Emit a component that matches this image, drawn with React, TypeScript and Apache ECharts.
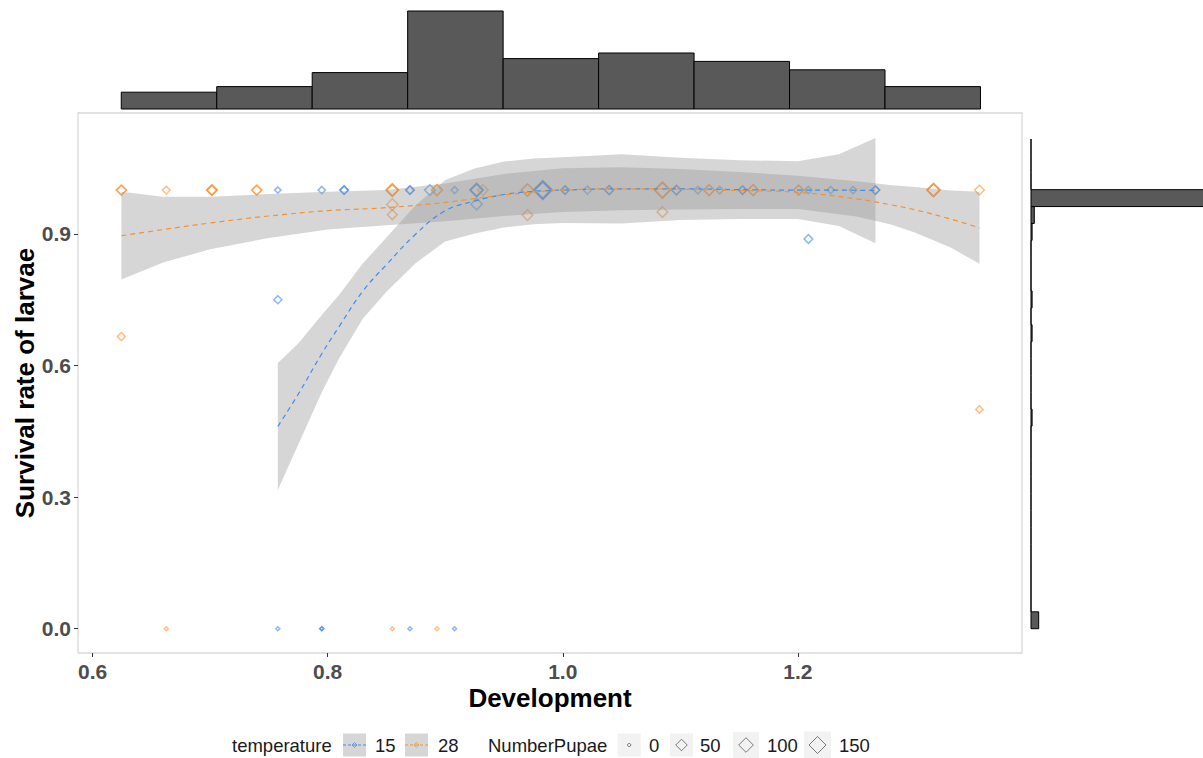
import React, { useEffect, useRef } from 'react';
import * as echarts from 'echarts';

// ---------- data ----------
const devX15 = [0.7576, 0.7576, 0.7576, 0.795, 0.795, 0.795, 0.814, 0.814, 0.870, 0.870, 0.870, 0.887, 0.908, 0.908, 0.9267, 0.9267, 0.9267, 0.9267, 0.983, 0.983, 0.983, 0.983, 1.002, 1.002, 1.021, 1.0395, 1.0395, 1.0967, 1.0967, 1.115, 1.1335, 1.153, 1.153, 1.209, 1.209, 1.228, 1.247, 1.266, 1.266];
const surv15 = [1.0, 0.75, 0, 1.0, 0, 0, 1.0, 1.0, 1.0, 1.0, 0, 1.0, 1.0, 0, 1.0, 1.0, 1.0, 0.968, 1.0, 1.0, 1.0, 1.0, 1.0, 1.0, 1.0, 1.0, 1.0, 1.0, 1.0, 1.0, 1.0, 1.0, 1.0, 1.0, 0.8885, 1.0, 1.0, 1.0, 1.0];
const pupae15 = [5, 15, 0, 10, 0, 0, 15, 20, 15, 20, 0, 40, 8, 0, 60, 70, 80, 50, 120, 150, 180, 200, 15, 20, 15, 20, 25, 25, 30, 12, 12, 15, 20, 10, 20, 10, 10, 15, 20];

const devX28 = [0.6245, 0.6245, 0.6245, 0.6627, 0.6627, 0.7015, 0.7015, 0.7015, 0.7397, 0.7397, 0.855, 0.855, 0.855, 0.855, 0.855, 0.855, 0.893, 0.893, 0.893, 0.932, 0.970, 0.970, 0.970, 1.0848, 1.0848, 1.0848, 1.0848, 1.1245, 1.1245, 1.162, 1.162, 1.2007, 1.2007, 1.3154, 1.3154, 1.3154, 1.3545, 1.3545];
const surv28 = [1.0, 1.0, 0.666, 1.0, 0, 1.0, 1.0, 1.0, 1.0, 1.0, 1.0, 1.0, 1.0, 0.967, 0.944, 0, 1.0, 1.0, 0, 1.0, 1.0, 1.0, 0.943, 1.0, 1.0, 1.0, 0.95, 1.0, 1.0, 1.0, 1.0, 1.0, 1.0, 1.0, 1.0, 1.0, 1.0, 0.5];
const pupae28 = [30, 35, 15, 12, 0, 30, 35, 40, 30, 35, 50, 60, 70, 50, 30, 0, 40, 45, 0, 40, 60, 65, 40, 100, 120, 140, 40, 40, 45, 40, 45, 30, 35, 60, 70, 80, 30, 10];

// loess fits (temperature 15) and half-width of their confidence band
const fitX15 = [0.7576, 0.775, 0.795, 0.81, 0.83, 0.85, 0.875, 0.90, 0.925, 0.95, 0.975, 1.0, 1.05, 1.10, 1.15, 1.20, 1.235, 1.266];
const fitY15 = [0.461, 0.535, 0.627, 0.69, 0.77, 0.83, 0.90, 0.953, 0.975, 0.99, 0.997, 1.0, 1.003, 1.003, 1.001, 1.0, 1.0, 0.999];
const band15 = [0.145, 0.115, 0.088, 0.072, 0.063, 0.062, 0.066, 0.07, 0.074, 0.075, 0.075, 0.075, 0.079, 0.071, 0.067, 0.066, 0.082, 0.12];

// loess fits (temperature 28)
const fitX28 = [0.6245, 0.66, 0.70, 0.75, 0.80, 0.85, 0.90, 0.95, 1.0, 1.05, 1.10, 1.15, 1.20, 1.25, 1.28, 1.30, 1.33, 1.3545];
const fitY28 = [0.896, 0.91, 0.925, 0.941, 0.953, 0.96, 0.972, 0.989, 1.0, 1.003, 1.002, 0.999, 0.995, 0.98, 0.966, 0.955, 0.934, 0.914];
const band28 = [0.10, 0.075, 0.06, 0.05, 0.043, 0.04, 0.043, 0.048, 0.05, 0.049, 0.046, 0.042, 0.038, 0.04, 0.045, 0.052, 0.065, 0.082];

// marginal histograms
const topHistCounts = [6, 8, 13, 35, 18, 20, 17, 14, 8];
const topHistStart = 0.6244;
const topHistBinWidth = 0.08122;
const rightHistCounts = [7, 0, 0, 0, 0, 0, 0, 0, 0, 0, 0, 0, 1, 0, 0, 0, 0, 1, 0, 1, 0, 0, 0, 1, 3, 165, 0, 0, 0];
const rightHistBinWidth = 0.0385;

const xTicks = [0.6, 0.8, 1.0, 1.2];
const yTicks = [0, 0.3, 0.6, 0.9];
const sizeBreaks = [0, 50, 100, 150];
const tempLevels = ['15', '28'];

// ---------- styling ----------
const BLUE = '#2A7FE8';
const ORANGE = '#FF8A1F';
const BLUE_LINE = '#3F8DEB';
const ORANGE_LINE = '#F7912F';
const FONT = '"Liberation Sans", Arial, sans-serif';
const X_MIN = 0.5876, X_MAX = 1.3907, Y_MIN = -0.0554, Y_MAX = 1.1758;

const sz = (n: number) => 4 + 13 * Math.sqrt(n / 150);

function ribbonSeries(xs: number[], ys: number[], hw: number[]) {
  const data = xs.map((x, i) => [x, ys[i] - hw[i], ys[i] + hw[i]]);
  return {
    type: 'custom', xAxisIndex: 0, yAxisIndex: 0, silent: true, z: 2,
    data,
    renderItem: (params: any, api: any) => {
      if (params.dataIndex !== 0) return { type: 'group', children: [] };
      const upper = data.map((d) => api.coord([d[0], d[2]]));
      const lower = data.map((d) => api.coord([d[0], d[1]])).reverse();
      return {
        type: 'polygon',
        shape: { points: upper.concat(lower) },
        style: { fill: 'rgba(153,153,153,0.4)', stroke: 'none' },
      };
    },
  };
}

function scatterSeries(xs: number[], ys: number[], ns: number[], color: string) {
  return {
    type: 'scatter', xAxisIndex: 0, yAxisIndex: 0, z: 1, silent: true,
    symbol: 'diamond',
    symbolSize: (v: number[]) => sz(v[2]),
    data: xs.map((x, i) => [x, ys[i], ns[i]]),
    itemStyle: { color: 'rgba(0,0,0,0)', borderColor: color, borderWidth: 1.5, opacity: 0.55 },
  };
}

function lineSeries(xs: number[], ys: number[], color: string) {
  return {
    type: 'line', xAxisIndex: 0, yAxisIndex: 0, z: 3, silent: true,
    smooth: 0.4, symbol: 'none',
    data: xs.map((x, i) => [x, ys[i]]),
    lineStyle: { color, width: 1.2, type: [5, 4] },
  };
}

function legendGraphics() {
  const els: any[] = [];
  const cy = 745;
  const txt = (s: string, x: number) => ({
    type: 'text', x, y: cy,
    style: { text: s, font: `18.5px ${FONT}`, fill: '#1a1a1a', verticalAlign: 'middle', textAlign: 'left' },
  });
  const diamond = (cx: number, s: number, stroke: string, opacity = 1) => ({
    type: 'polygon',
    shape: { points: [[cx, cy - s / 2], [cx + s / 2, cy], [cx, cy + s / 2], [cx - s / 2, cy]] },
    style: { fill: 'none', stroke, lineWidth: 1, opacity },
  });
  els.push(txt('temperature', 232));
  const tempKeys = [343, 405];
  const tempLabels = [375, 438];
  const tempColors = [BLUE_LINE, ORANGE_LINE];
  tempLevels.forEach((lab, i) => {
    const x = tempKeys[i];
    els.push({ type: 'rect', shape: { x, y: cy - 11.5, width: 23, height: 23 }, style: { fill: '#d6d6d6' } });
    els.push({ type: 'line', shape: { x1: x, y1: cy, x2: x + 23, y2: cy }, style: { stroke: tempColors[i], lineWidth: 1, lineDash: [3, 2] } });
    els.push(diamond(x + 11.5, 5, tempColors[i], 0.8));
    els.push(txt(lab, tempLabels[i]));
  });
  els.push(txt('NumberPupae', 488));
  const sizeKeys = [617.7, 670, 733, 804];
  const sizeKeyW = [23, 23, 26, 27];
  const sizeLabels = [649, 700, 767, 839];
  sizeBreaks.forEach((n, i) => {
    const x = sizeKeys[i];
    const w = sizeKeyW[i];
    els.push({ type: 'rect', shape: { x, y: cy - w / 2, width: w, height: w }, style: { fill: '#f2f2f2' } });
    els.push(diamond(x + w / 2, sz(n), '#444', 0.7));
    els.push(txt(String(n), sizeLabels[i]));
  });
  return els;
}

export default function App() {
  const ref = useRef<HTMLDivElement>(null);
  useEffect(() => {
    const chart = echarts.init(ref.current!, null, { renderer: 'svg' });
    const topData = topHistCounts.map((c, i) => [topHistStart + i * topHistBinWidth, topHistStart + (i + 1) * topHistBinWidth, c]);
    const rightData = rightHistCounts.map((c, i) => [i * rightHistBinWidth, (i + 1) * rightHistBinWidth, c]);
    const option: any = {
      animation: false,
      backgroundColor: '#ffffff',
      grid: [
        { left: 78, top: 113, width: 944, height: 540, show: true, borderColor: '#d9d9d9', borderWidth: 1.3, backgroundColor: 'transparent' },
        { left: 78, top: 6, width: 944, height: 103 },
        { left: 1031, top: 113, width: 172, height: 540 },
      ],
      xAxis: [
        {
          gridIndex: 0, type: 'value', min: X_MIN, max: X_MAX,
          axisLine: { show: false, onZero: false }, splitLine: { show: false },
          axisTick: { show: true, customValues: xTicks, length: 4, lineStyle: { color: '#333333', width: 1 } },
          axisLabel: { show: true, customValues: xTicks, formatter: (v: number) => v.toFixed(1), margin: 8, fontSize: 21, fontWeight: 'bold', color: '#4d4d4d', fontFamily: FONT, lineHeight: 21 },
        },
        { gridIndex: 1, type: 'value', min: X_MIN, max: X_MAX, show: false },
        { gridIndex: 2, type: 'value', min: 0, max: 172 / 1.1, show: false },
      ],
      yAxis: [
        {
          gridIndex: 0, type: 'value', min: Y_MIN, max: Y_MAX,
          axisLine: { show: false, onZero: false }, splitLine: { show: false },
          axisTick: { show: true, customValues: yTicks, length: 4, lineStyle: { color: '#333333', width: 1 } },
          axisLabel: { show: true, customValues: yTicks, formatter: (v: number) => v.toFixed(1), margin: 7, fontSize: 21, fontWeight: 'bold', color: '#4d4d4d', fontFamily: FONT },
        },
        { gridIndex: 1, type: 'value', min: 0, max: 103 / 2.8, show: false },
        { gridIndex: 2, type: 'value', min: Y_MIN, max: Y_MAX, show: false },
      ],
      series: [
        scatterSeries(devX15, surv15, pupae15, BLUE),
        scatterSeries(devX28, surv28, pupae28, ORANGE),
        ribbonSeries(fitX15, fitY15, band15),
        ribbonSeries(fitX28, fitY28, band28),
        lineSeries(fitX15, fitY15, BLUE_LINE),
        lineSeries(fitX28, fitY28, ORANGE_LINE),
        {
          type: 'custom', xAxisIndex: 1, yAxisIndex: 1, silent: true, data: topData,
          renderItem: (_p: any, api: any) => {
            const p0 = api.coord([api.value(0), 0]);
            const p1 = api.coord([api.value(1), api.value(2)]);
            return { type: 'rect', shape: { x: p0[0], y: p1[1], width: p1[0] - p0[0], height: p0[1] - p1[1] }, style: { fill: '#595959', stroke: '#000', lineWidth: 1 } };
          },
        },
        {
          type: 'custom', xAxisIndex: 2, yAxisIndex: 2, silent: true, data: rightData,
          renderItem: (_p: any, api: any) => {
            const p0 = api.coord([0, api.value(0)]);
            const p1 = api.coord([api.value(2), api.value(1)]);
            return { type: 'rect', shape: { x: p0[0], y: p1[1], width: p1[0] - p0[0], height: p0[1] - p1[1] }, style: { fill: '#595959', stroke: '#000', lineWidth: 1 } };
          },
        },
      ],
      graphic: [
        { type: 'text', x: 550, y: 698, style: { text: 'Development', font: `bold 26px ${FONT}`, fill: '#000', textAlign: 'center', verticalAlign: 'middle' } },
        { type: 'text', x: 25, y: 383, rotation: Math.PI / 2, style: { text: 'Survival rate of larvae', font: `bold 26px ${FONT}`, fill: '#000', textAlign: 'center', verticalAlign: 'middle' } },
        ...legendGraphics(),
      ],
    };
    chart.setOption(option);
    return () => chart.dispose();
  }, []);
  return <div ref={ref} style={{ position: 'absolute', left: 0, top: 0, width: 1203, height: 758, overflow: 'hidden', background: '#fff' }} />;
}
